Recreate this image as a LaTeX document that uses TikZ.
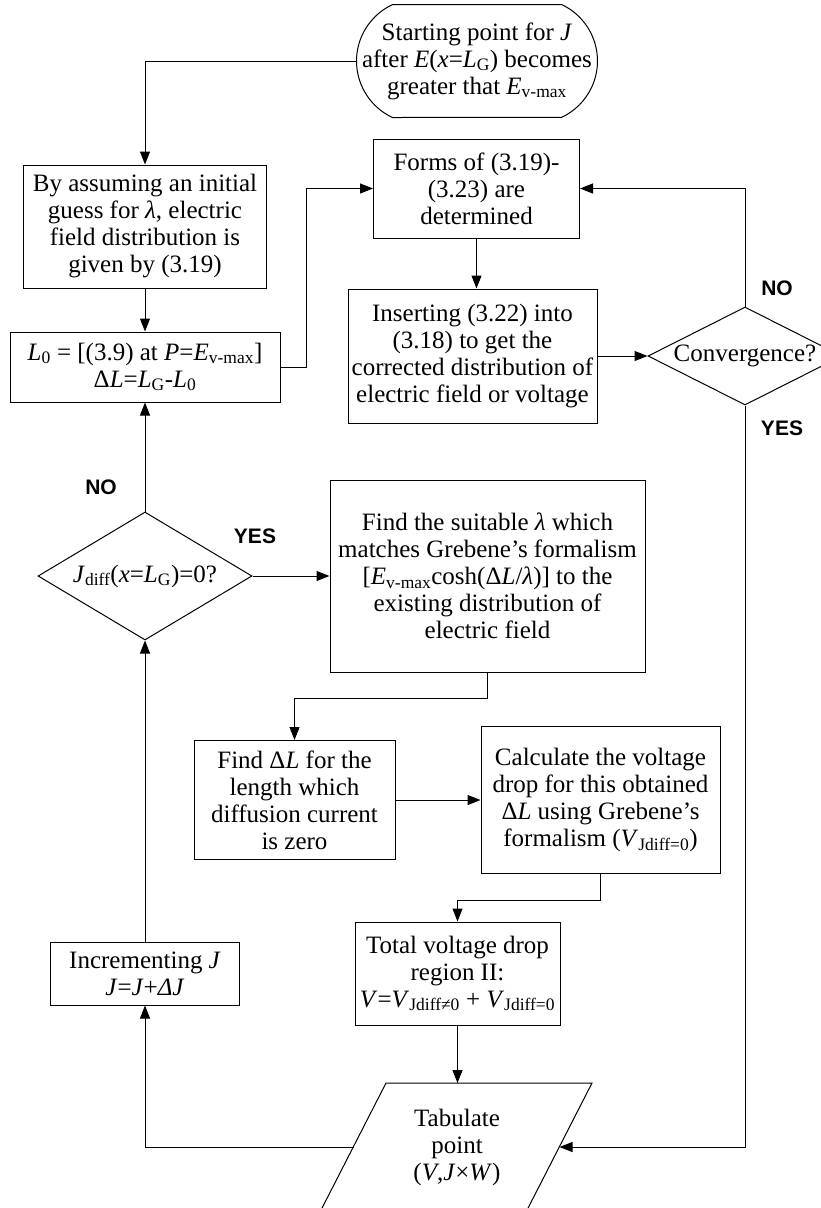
\documentclass[tikz,border=0pt]{standalone}
\usepackage{fontspec}
\setmainfont{Liberation Serif}
\newfontfamily\labelfont{Liberation Sans}
\usetikzlibrary{arrows.meta,shapes.geometric,calc}

% small upright subscript used throughout the formulas
\newcommand\sbs[1]{\textsubscript{#1}}

\begin{document}
\begin{tikzpicture}[x=1pt, y=-1pt, line width=1pt,
  font=\fontsize{25}{27}\selectfont,
  box/.style={draw, rectangle, align=center, inner sep=0pt},
  decision/.style={draw, diamond, aspect=2, align=center, inner sep=0pt},
  flow/.style={-{Triangle[length=13pt,width=10pt]}},
  answer/.style={font=\labelfont\bfseries\fontsize{21}{21}\selectfont},
]
\useasboundingbox (0,0) rectangle (821,1208);
\fill[white] (0,0) rectangle (821,1208);

% ---- start terminal (flat top and bottom, arched ends) ----
\node[align=center, inner sep=0pt, minimum width=240, minimum height=112] (start) at (477,61)
  {Starting point for \textit{J}\\after \textit{E}(\textit{x}=\textit{L}\sbs{G}) becomes\\greater that \textit{E}\sbs{v-max}};
\draw ([xshift=36pt]start.north west) -- ([xshift=-36pt]start.north east)
  arc[start angle=65, end angle=-65, radius=62.3pt]
  -- ([xshift=36pt]start.south west)
  arc[start angle=245, end angle=115, radius=62.3pt] -- cycle;

% ---- process boxes ----
\node[box, minimum width=243, minimum height=123] (guess) at (145,226.5)
  {By assuming an initial\\guess for \textit{λ}, electric\\field distribution is\\given by (3.19)};
\node[box, minimum width=270, minimum height=70] (lzero) at (145,367)
  {\textit{L}\sbs{0} = [(3.9) at \textit{P}=\textit{E}\sbs{v-max}]\\Δ\textit{L}=\textit{L}\sbs{G}-\textit{L}\sbs{0}};
\node[box, minimum width=206, minimum height=99] (forms) at (476.5,188.5)
  {Forms of (3.19)-\\(3.23) are\\determined};
\node[box, minimum width=249, minimum height=134] (insert) at (472.5,356)
  {Inserting (3.22) into\\(3.18) to get the\\corrected distribution of\\electric field or voltage};
\node[box, minimum width=315, minimum height=192] (fitlam) at (487.5,576)
  {Find the suitable \textit{λ} which\\matches Grebene’s formalism\\{}[\textit{E}\sbs{v-max}cosh(Δ\textit{L}/\textit{λ})] to the\\existing distribution of\\electric field};
\node[box, minimum width=201, minimum height=119] (finddl) at (294.5,800)
  {Find Δ\textit{L} for the\\length which\\diffusion current\\is zero};
\node[box, minimum width=239, minimum height=147] (calc) at (600.5,800)
  {Calculate the voltage\\drop for this obtained\\Δ\textit{L} using Grebene’s\\formalism (\textit{V}\sbs{Jdiff=0})};
\node[box, minimum width=205, minimum height=103] (total) at (457.5,973.5)
  {Total voltage drop\\region II:\\\textit{V}=\textit{V}\sbs{Jdiff≠0} + \textit{V}\sbs{Jdiff=0}};
\node[box, minimum width=189, minimum height=63] (incr) at (145,973.5)
  {Incrementing \textit{J}\\\textit{J}=\textit{J}+\textit{ΔJ}};

% ---- decisions ----
\node[decision, minimum width=194, minimum height=98] (conv) at (745,356) {Convergence?};
\node[decision, minimum width=214, minimum height=128] (jdiff) at (145,576)
  {\textit{J}\sbs{diff}(\textit{x}=\textit{L}\sbs{G})=0?};

% ---- output parallelogram (runs off the lower edge) ----
\node[align=center, inner sep=0pt] (tab) at (457,1147)
  {Tabulate\\point\\(\textit{V},\textit{J}×\textit{W})};
\coordinate (tab-n) at (489,1083);
\coordinate (tab-w) at (353.5,1147);
\coordinate (tab-e) at (559.5,1147);
\draw (386,1083) -- (592,1083) -- (525,1214) -- (319,1214) -- cycle;

% ---- yes / no labels ----
\node[answer] (no-conv) at (777,288) {NO};
\node[answer] (yes-conv) at (782,428) {YES};
\node[answer] (no-jdiff) at (101,487) {NO};
\node[answer] (yes-jdiff) at (255,536) {YES};

% ---- connectors ----
\draw[flow] (start.west) -| (guess.north);
\draw[flow] (guess.south) -- (lzero.north);
\draw[flow] (lzero.east) -- ++(26,0) |- (forms.west);
\draw[flow] (forms.south) -- (forms.south |- insert.north);
\draw[flow] (insert.east) -- (conv.west);
\draw[flow] (conv.north) |- (forms.east);
\draw[flow] (conv.south) |- (tab-e);
\draw[flow] (jdiff.north) -- (lzero.south);
\draw[flow] (jdiff.east) -- (fitlam.west);
\draw[flow] (fitlam.south) -- ++(0,26) -| (finddl.north);
\draw[flow] (finddl.east) -- (calc.west);
\draw[flow] (calc.south) -- ++(0,26.5) -| (total.north);
\draw[flow] (total.south) -- (total.south |- tab-n);
\draw[flow] (tab-w) -| (incr.south);
\draw[flow] (incr.north) -- (jdiff.south);
\end{tikzpicture}
\end{document}
